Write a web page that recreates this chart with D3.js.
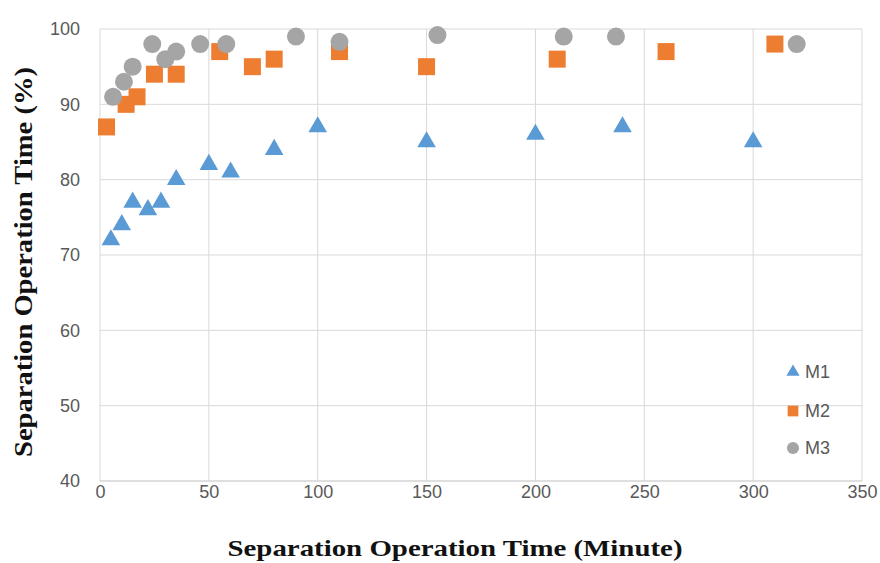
<!DOCTYPE html>
<html>
<head>
<meta charset="utf-8">
<script src="https://cdn.jsdelivr.net/npm/d3@7"></script>
<style>
  html, body { margin: 0; padding: 0; background: #fff; }
  svg { display: block; }
</style>
</head>
<body>
<svg id="chart" width="880" height="563"></svg>
<script>
// Separation efficiency over time for three membranes
const seriesNames = ["M1", "M2", "M3"];
const m1Time  = [5, 10, 15, 22, 28, 35, 50, 60, 80, 100, 150, 200, 240, 300];
const m1Value = [72, 74, 77, 76, 77, 80, 82, 81, 84, 87, 85, 86, 87, 85];
const m2Time  = [3, 12, 17, 25, 35, 55, 70, 80, 110, 150, 210, 260, 310];
const m2Value = [87, 90, 91, 94, 94, 97, 95, 96, 97, 95, 96, 97, 98];
const m3Time  = [6, 11, 15, 24, 30, 35, 46, 58, 90, 110, 155, 213, 237, 320];
const m3Value = [91, 93, 95, 98, 96, 97, 98, 98, 99, 98.3, 99.2, 99, 99, 98];
const xTicks = [0, 50, 100, 150, 200, 250, 300, 350];
const yTicks = [40, 50, 60, 70, 80, 90, 100];
const colors = ["#5B9BD5", "#ED7D31", "#A5A5A5"];

const svg = d3.select("#chart");
const x = d3.scaleLinear().domain([0, 350]).range([100, 862]);
const y = d3.scaleLinear().domain([40, 100]).range([481, 29]);

// Gridlines
svg.append("g").selectAll("line.h").data(yTicks).join("line")
  .attr("x1", x(0)).attr("x2", x(350))
  .attr("y1", d => y(d)).attr("y2", d => y(d))
  .attr("stroke", d => d === 40 ? "#BFBFBF" : "#D9D9D9").attr("stroke-width", 1);
svg.append("g").selectAll("line.v").data(xTicks).join("line")
  .attr("x1", d => x(d)).attr("x2", d => x(d))
  .attr("y1", y(100)).attr("y2", y(40))
  .attr("stroke", "#D9D9D9").attr("stroke-width", 1);

// Tick labels via d3 axes
const yAxis = svg.append("g").attr("transform", `translate(${x(0)},0)`)
  .call(d3.axisLeft(y).tickValues(yTicks).tickSize(0).tickPadding(20));
const xAxis = svg.append("g").attr("transform", `translate(0,${y(40)})`)
  .call(d3.axisBottom(x).tickValues(xTicks).tickSize(0).tickPadding(2));
[yAxis, xAxis].forEach(a => {
  a.select(".domain").remove();
  a.selectAll("text").attr("fill", "#595959")
    .style("font-family", "'Liberation Sans', Arial, sans-serif").style("font-size", "18px");
});
xAxis.selectAll("text").attr("dy", "0.85em");

// Markers
const shapes = [d3.symbolTriangle, d3.symbolSquare, d3.symbolCircle];
const sizes = [150, 289, 254];
const series = [
  m1Time.map((t, i) => ({ t, v: m1Value[i] })),
  m2Time.map((t, i) => ({ t, v: m2Value[i] })),
  m3Time.map((t, i) => ({ t, v: m3Value[i] }))
];
series.forEach((pts, s) => {
  svg.append("g").selectAll("path").data(pts).join("path")
    .attr("d", d3.symbol().type(shapes[s]).size(sizes[s]))
    .attr("transform", d => `translate(${x(d.t)},${y(d.v)})`)
    .attr("fill", colors[s]);
});

// Legend
const legendY = [372, 411, 448];
const legendSizes = [75, 115, 115];
const legend = svg.append("g");
seriesNames.forEach((name, s) => {
  legend.append("path")
    .attr("d", d3.symbol().type(shapes[s]).size(legendSizes[s]))
    .attr("transform", `translate(793,${legendY[s]})`)
    .attr("fill", colors[s]);
  legend.append("text").attr("x", 805).attr("y", legendY[s]).attr("dy", "0.36em")
    .attr("fill", "#595959")
    .style("font-family", "'Liberation Sans', Arial, sans-serif").style("font-size", "18px")
    .text(name);
});

// Axis titles
svg.append("text")
  .attr("x", 455).attr("y", 556).attr("text-anchor", "middle")
  .attr("textLength", 455).attr("lengthAdjust", "spacingAndGlyphs")
  .style("font-family", "'Liberation Serif', 'Times New Roman', serif")
  .style("font-weight", "bold").style("font-size", "24px").attr("fill", "#111")
  .text("Separation Operation Time (Minute)");
svg.append("text")
  .attr("transform", "translate(32,262) rotate(-90)").attr("text-anchor", "middle")
  .attr("textLength", 390).attr("lengthAdjust", "spacingAndGlyphs")
  .style("font-family", "'Liberation Serif', 'Times New Roman', serif")
  .style("font-weight", "bold").style("font-size", "25px").attr("fill", "#111")
  .text("Separation Operation Time (%)");
</script>
</body>
</html>
